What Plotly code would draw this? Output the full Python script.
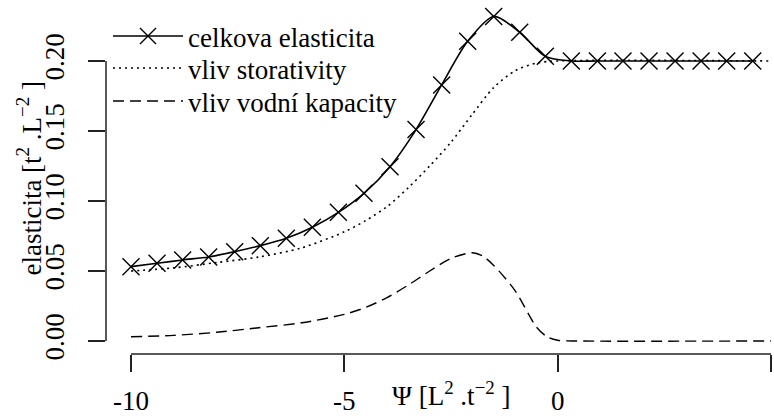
import plotly.graph_objects as go

# Total elasticity, sampled at the marked points
psi_total = [-10.00, -9.39, -8.79, -8.18, -7.57, -6.97, -6.36, -5.75, -5.14, -4.54,
             -3.93, -3.32, -2.72, -2.11, -1.50, -0.89, -0.29, 0.32, 0.93, 1.53,
             2.14, 2.75, 3.36, 3.96, 4.57]
celkova = [0.0531, 0.0555, 0.0579, 0.0600, 0.0638, 0.0681, 0.0734, 0.0813, 0.0919, 0.1055,
           0.1245, 0.1510, 0.1829, 0.2140, 0.2318, 0.2205, 0.2033, 0.2000, 0.2000, 0.2000,
           0.2000, 0.2000, 0.2000, 0.2000, 0.2000]

# Contribution of storativity
psi_stor = [-10, -9, -8, -7, -6, -5, -4.5, -4, -3.5, -3, -2.5, -2, -1.5, -1, -0.5, 0, 5]
storativita = [0.0500, 0.0522, 0.0560, 0.0600, 0.0665, 0.0780, 0.0860, 0.0960, 0.1095,
               0.1250, 0.1420, 0.1620, 0.1810, 0.1930, 0.1985, 0.2000, 0.2000]

# Contribution of water capacity
psi_kap = [-10, -9, -8, -7, -6, -5, -4.5, -4, -3.5, -3, -2.5, -2, -1.75, -1.5, -1,
           -0.5, -0.25, 0, 0.5, 5]
kapacita = [0.0030, 0.0040, 0.0062, 0.0095, 0.0130, 0.0190, 0.0240, 0.0310, 0.0400,
            0.0500, 0.0590, 0.0630, 0.0605, 0.0540, 0.0360, 0.0100, 0.0030, 0.0005,
            0.0000, 0.0000]

x_ticks = [-10, -5, 0, 5]
x_tick_text = ["-10", "-5", "0", "5"]
y_ticks = [0.00, 0.05, 0.10, 0.15, 0.20]
y_tick_text = ["0.00", "0.05", "0.10", "0.15", "0.20"]

FONT = "Liberation Serif, Times New Roman, Times, serif"
FS = 27
INK = "black"

fig = go.Figure()
fig.add_trace(go.Scatter(
    x=psi_total, y=celkova, mode="lines+markers", name="celkova elasticita",
    legend="legend",
    line=dict(color=INK, width=1.6, shape="spline", smoothing=0.8),
    marker=dict(symbol="x-thin-open", size=17, line=dict(color=INK, width=1.4)),
))
fig.add_trace(go.Scatter(
    x=psi_stor, y=storativita, mode="lines", name="vliv storativity",
    legend="legend2",
    line=dict(color=INK, width=1.6, dash="2px,4px", shape="spline", smoothing=0.8),
))
fig.add_trace(go.Scatter(
    x=psi_kap, y=kapacita, mode="lines", name="vliv vodní kapacity",
    legend="legend3",
    line=dict(color=INK, width=1.4, dash="11px,6px", shape="spline", smoothing=0.8),
))

# Detached axis lines spanning only the tick range
axis_line = dict(color="#222", width=1.5)
fig.add_shape(type="line", xref="x", yref="paper", x0=x_ticks[0], x1=x_ticks[-1],
              y0=0, y1=0, line=axis_line)
fig.add_shape(type="line", xref="paper", yref="y", x0=0, x1=0,
              y0=y_ticks[0], y1=y_ticks[-1], line=axis_line)

fig.add_annotation(text="Ψ [L<sup>2</sup> .t<sup>−2</sup> ]", xref="x", yref="paper",
                   x=-2.5, y=0, yanchor="middle", yshift=-40, showarrow=False,
                   font=dict(family=FONT, size=FS, color=INK))
fig.add_annotation(text="elasticita [t<sup>2</sup> .L<sup>−2</sup> ]", xref="paper",
                   yref="y", x=0, xshift=-77, y=0.116, xanchor="center",
                   textangle=-90, showarrow=False,
                   font=dict(family=FONT, size=FS, color=INK))

# One single-entry legend per series so each row sits at its own height
legend_style = dict(x=0.003, xanchor="left", yanchor="middle",
                    bgcolor="rgba(0,0,0,0)", font=dict(family=FONT, size=FS, color=INK),
                    tracegroupgap=0, itemwidth=70)
fig.update_layout(
    width=774, height=419,
    margin=dict(l=106, r=0, t=3, b=65),
    paper_bgcolor="white", plot_bgcolor="white",
    font=dict(family=FONT, size=FS, color=INK),
    showlegend=True,
    legend=dict(y=0.9045, **legend_style),
    legend2=dict(y=0.8134, **legend_style),
    legend3=dict(y=0.7194, **legend_style),
)
fig.update_xaxes(range=[-10.586, 5.069], showgrid=False, zeroline=False, showline=False,
                 ticks="outside", ticklen=17, tickwidth=1.5, tickcolor="#222",
                 tickvals=x_ticks, ticktext=x_tick_text, ticklabelstandoff=6,
                 tickfont=dict(family=FONT, size=FS, color=INK))
fig.update_yaxes(range=[-0.00929, 0.2414], showgrid=False, zeroline=False, showline=False,
                 ticks="outside", ticklen=17, tickwidth=1.5, tickcolor="#222",
                 tickvals=y_ticks, ticktext=y_tick_text, tickangle=-90,
                 ticklabelstandoff=13,
                 tickfont=dict(family=FONT, size=FS, color=INK))

fig.write_html("out.html")
